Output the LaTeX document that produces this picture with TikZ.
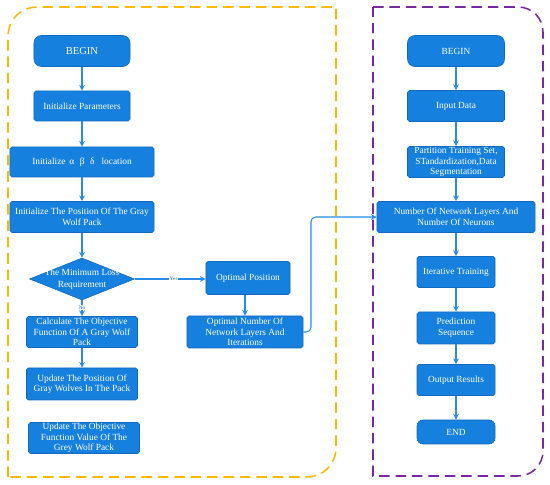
\documentclass[tikz,border=0pt]{standalone}
\usepackage{fontspec}
\setmainfont{Liberation Serif}
\usetikzlibrary{shapes.geometric,arrows.meta}
\definecolor{bfill}{RGB}{22,128,222}
\definecolor{bdraw}{RGB}{18,105,190}
\definecolor{arr}{RGB}{38,140,232}
\definecolor{orangeb}{RGB}{255,184,0}
\definecolor{purpleb}{RGB}{120,40,160}
\tikzset{
  box/.style={fill=bfill, draw=bdraw, line width=0.5pt, text=white, align=center,
    font=\fontsize{8}{9}\selectfont, inner sep=0pt, rounded corners=1.5pt},
  term/.style={box, rounded corners=0.22cm},
  dec/.style={diamond, fill=bfill, draw=bdraw, line width=0.5pt, inner sep=0pt,
    minimum width=3.15cm, minimum height=1.26cm},
  flow/.style={draw=arr, line width=0.9pt, -{Stealth[length=5pt,width=5pt]}},
  lbl/.style={font=\fontsize{4.5}{5}\selectfont, text=bdraw, fill=white, inner sep=0.5pt},
  frame/.style={line width=1.3pt, dash pattern=on 9pt off 5pt}
}
\begin{document}
\begin{tikzpicture}[x=0.03cm,y=-0.03cm]
\useasboundingbox (0,0) rectangle (550,485);
% frames
\draw[frame, orangeb] (8,477) -- (8,37) .. controls (8,20) and (20,7) .. (38,7) -- (336,7) -- (336,447) .. controls (336,464) and (324,477) .. (306,477) -- cycle;
\draw[frame, purpleb] (373,7) -- (518,7) .. controls (532,7) and (543,18) .. (543,32) -- (543,451) .. controls (543,465) and (532,476) .. (518,476) -- (373,476) -- cycle;
% left column
\node[term, minimum width=2.88cm, minimum height=0.93cm, font=\fontsize{9}{10}\selectfont] (lb) at (82,51) {BEGIN};
\node[box, minimum width=2.88cm, minimum height=0.9cm] (ip) at (82,106) {Initialize Parameters};
\node[box, minimum width=4.32cm, minimum height=0.9cm] (iabd) at (82,162) {Initialize \,α\,\, β\,\, δ\,\,\, location};
\node[box, minimum width=4.32cm, minimum height=0.93cm] (iwp) at (82,217) {Initialize The Position Of The Gray\\Wolf Pack};
\node[dec] (dm) at (82,279) {};
\node[text=white, align=center, font=\fontsize{8}{10}\selectfont, inner sep=0pt] (dmt) at (82,279) {The Minimum Loss\\Requirement};
\node[box, minimum width=3.33cm, minimum height=0.93cm] (calc) at (82,332) {Calculate The Objective\\Function Of A Gray Wolf\\Pack};
\node[box, minimum width=3.33cm, minimum height=0.96cm] (upd) at (82,384) {Update The Position Of\\Gray Wolves In The Pack};
\node[box, minimum width=3.33cm, minimum height=0.93cm] (uobj) at (84,438) {Update The Objective\\Function Value Of The\\Grey Wolf Pack};
\node[box, minimum width=2.52cm, minimum height=0.99cm] (opt) at (248,278) {Optimal Position};
\node[box, minimum width=3.48cm, minimum height=0.96cm] (onl) at (245,332) {Optimal Number Of\\Network Layers And\\Iterations};
% right column
\node[term, minimum width=2.91cm, minimum height=0.93cm] (rb) at (456,51) {BEGIN};
\node[box, minimum width=2.91cm, minimum height=0.93cm] (inp) at (456,106) {Input Data};
\node[box, minimum width=2.91cm, minimum height=0.93cm] (part) at (456,162) {Partition Training Set,\\STandardization,Data\\Segmentation};
\node[box, minimum width=4.74cm, minimum height=0.93cm] (nl) at (456,217) {Number Of Network Layers And\\Number Of Neurons};
\node[box, minimum width=2.34cm, minimum height=0.93cm] (it) at (456,272) {Iterative Training};
\node[box, minimum width=2.34cm, minimum height=0.96cm] (pred) at (456,328) {Prediction\\Sequence};
\node[box, minimum width=2.34cm, minimum height=0.93cm] (out) at (456,380) {Output Results};
\node[term, minimum width=2.34cm, minimum height=0.72cm, rounded corners=0.18cm] (rend) at (456,432) {END};
% left arrows
\draw[flow] (lb) -- (ip);
\draw[flow] (ip) -- (iabd);
\draw[flow] (iabd) -- (iwp);
\draw[flow] (iwp) -- (dm);
\draw[flow] (dm) -- node[lbl, pos=0.45] (no) {No} (calc);
\draw[flow] (dm.east) -- node[lbl, pos=0.55] (yes) {Yes} (opt.west |- dm.east);
\draw[flow] (calc) -- (upd);
\draw[flow] (opt.south -| onl.north) -- (onl.north);
\coordinate (c1) at (311,332);
\draw[flow, rounded corners=4pt] (onl.east) -- (c1) -- (c1 |- nl.west) -- (nl.west);
% right arrows
\draw[flow] (rb) -- (inp);
\draw[flow] (inp) -- (part);
\draw[flow] (part) -- (nl);
\draw[flow] (nl) -- (it);
\draw[flow] (it) -- (pred);
\draw[flow] (pred) -- (out);
\draw[flow] (out) -- (rend);
\end{tikzpicture}
\end{document}
